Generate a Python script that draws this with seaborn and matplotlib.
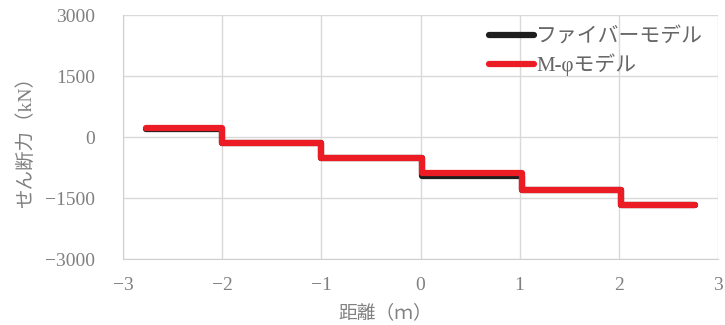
import numpy as np
import pandas as pd
import matplotlib
matplotlib.use('Agg')
import matplotlib.pyplot as plt
import seaborn as sns

# 区間の境界（m）と各区間のせん断力（kN）
x_breaks = [-2.775, -2.0, -1.0, 0.02, 1.02, 2.02, 2.775]
fiber_levels = [190, -140, -517, -960, -1305, -1658]
mphi_levels = [232, -140, -517, -894, -1305, -1658]

x_ticks = [-3, -2, -1, 0, 1, 2, 3]
y_ticks = [-3000, -1500, 0, 1500, 3000]

sns.set_style("whitegrid")
plt.rcParams['font.family'] = ['Liberation Serif', 'Noto Sans CJK JP', 'DejaVu Sans']

df = pd.concat([
    pd.DataFrame({'距離': x_breaks, 'せん断力': fiber_levels + [fiber_levels[-1]], 'モデル': 'ファイバーモデル'}),
    pd.DataFrame({'距離': x_breaks, 'せん断力': mphi_levels + [mphi_levels[-1]], 'モデル': 'M-φモデル'}),
])

fig = plt.figure(figsize=(7.25, 3.25), dpi=100)
ax = fig.add_axes([0.170, 0.203, 0.820, 0.750])

sns.lineplot(data=df, x='距離', y='せん断力', hue='モデル',
             palette={'ファイバーモデル': '#1e1e1e', 'M-φモデル': '#ec1c24'},
             drawstyle='steps-post', linewidth=4.5, sort=False,
             solid_capstyle='round', solid_joinstyle='round', ax=ax)

ax.set_xlim(-3, 3)
ax.set_ylim(-3000, 3000)
ax.set_xticks(x_ticks)
ax.set_yticks(y_ticks)
ax.grid(True, color='#d9d9d9', linewidth=1.0)
for side, sp in ax.spines.items():
    sp.set_visible(side in ('left', 'bottom'))
    sp.set_color('#d0d0d0')
ax.tick_params(axis='y', colors='#808080', labelsize=14, length=0, pad=20)
ax.tick_params(axis='x', colors='#808080', labelsize=14, length=0, pad=13)

ax.set_xlabel('距離（ｍ）', fontsize=13.5, color='#808080')
ax.set_ylabel('せん断力（kN）', fontsize=14, color='#808080')
ax.xaxis.set_label_coords(0.44, -0.185)
ax.yaxis.set_label_coords(-0.148, 0.5)

leg = ax.legend(loc='upper right', bbox_to_anchor=(0.99, 0.985), frameon=False,
                fontsize=15, handlelength=2.15, handletextpad=0.1,
                labelspacing=0.3, borderaxespad=0.02)
for t in leg.get_texts():
    t.set_color('#666666')
for h in leg.get_lines():
    h.set_linewidth(4.5)

fig.savefig('out.png', dpi=100)
